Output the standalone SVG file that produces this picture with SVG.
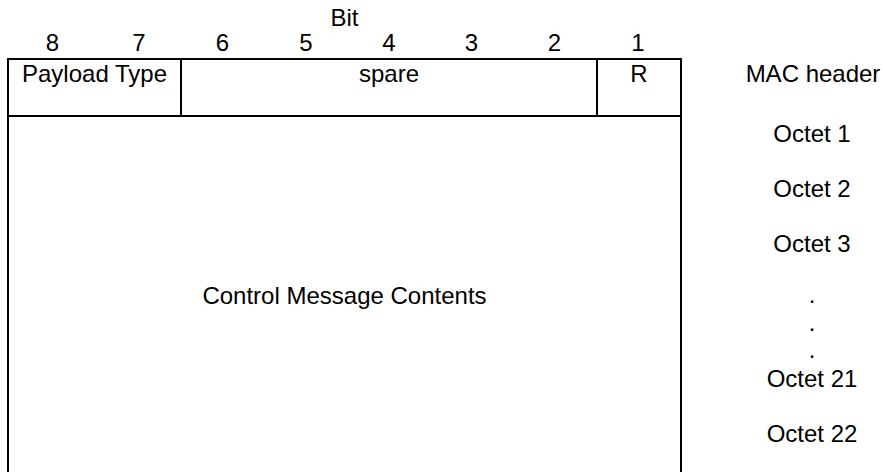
<svg xmlns="http://www.w3.org/2000/svg" width="885" height="472" viewBox="0 0 885 472">
  <style>
    text { font-family: "Liberation Sans", Arial, sans-serif; font-size: 24px; fill: #000; text-anchor: middle; }
    .ln { stroke: #000; stroke-width: 2; fill: none; }
  </style>
  <rect x="0" y="0" width="885" height="472" fill="#fff"/>
  <g id="bit-labels">
    <text x="344.5" y="26">Bit</text>
    <text x="52.5" y="51">8</text>
    <text x="139" y="51">7</text>
    <text x="222.5" y="51">6</text>
    <text x="306" y="51">5</text>
    <text x="389" y="51">4</text>
    <text x="471.5" y="51">3</text>
    <text x="554.5" y="51">2</text>
    <text x="638" y="51">1</text>
  </g>
  <g id="frame">
    <path class="ln" d="M8,480 V59 H681 V480"/>
    <path class="ln" d="M8,116 H681"/>
  </g>
  <g id="payload-type">
    <path class="ln" d="M181,59 V116"/>
    <text x="94.5" y="82">Payload Type</text>
  </g>
  <g id="spare">
    <text x="389" y="82">spare</text>
  </g>
  <g id="r-bit">
    <path class="ln" d="M597,59 V116"/>
    <text x="639" y="82">R</text>
  </g>
  <g id="contents">
    <text x="344.5" y="304">Control Message Contents</text>
  </g>
  <g id="octet-labels">
    <text x="813" y="82">MAC header</text>
    <text x="812" y="142">Octet 1</text>
    <text x="812" y="197">Octet 2</text>
    <text x="812" y="252">Octet 3</text>
    <text x="812" y="303">.</text>
    <text x="812" y="331">.</text>
    <text x="812" y="358">.</text>
    <text x="812" y="387">Octet 21</text>
    <text x="812" y="442">Octet 22</text>
  </g>
</svg>
